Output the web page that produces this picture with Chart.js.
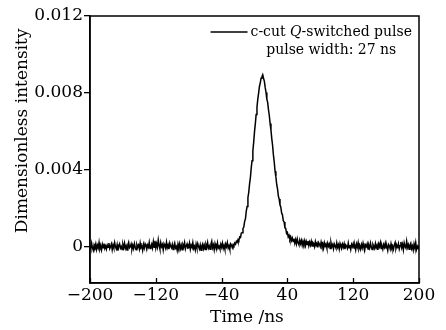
<!DOCTYPE html>
<html>
<head>
<meta charset="utf-8">
<script src="https://cdn.jsdelivr.net/npm/chart.js@4/dist/chart.umd.min.js"></script>
<style>
html,body{margin:0;padding:0;background:#fff;}
#wrap{width:446px;height:330px;}
</style>
</head>
<body>
<div id="wrap"><canvas id="c" width="446" height="330"></canvas></div>
<script>
// Sampling of the time axis (ns)
const timeStart = -200;
const timeStep = 1;
// Intensity values in units of 1e-5 (dimensionless)
const valueUnit = 1e-5;
// t = -200 .. -21
const baselineBefore = [
  4,-11,17,-7,-20,8,-3,14,-15,6,-8,21,-13,1,-18,11,-6,15,-10,3,
  -14,7,-4,18,-11,0,13,-17,8,-7,20,-3,-13,10,-21,4,14,-8,1,-15,
  11,-6,17,-10,3,-18,8,22,-7,-1,13,-14,6,-11,15,-4,-17,10,-3,7,
  -13,18,-6,1,-20,11,-8,14,4,-15,7,-3,21,-11,0,13,-7,25,-4,30,
  -8,15,-3,34,6,-13,20,-1,10,-17,14,3,-10,22,-6,8,-14,17,1,-7,
  11,-15,4,18,-8,0,-20,13,-4,15,-11,6,-17,10,-1,20,-13,3,14,-8,
  -6,17,-14,7,-3,21,-10,1,-18,13,-7,15,-1,-13,8,-20,4,14,-11,6,
  -15,10,-4,20,-8,3,-14,13,28,-6,8,-17,15,-3,-11,18,-7,1,-13,11,
  -4,17,-10,6,-14,13,-1,20,-8,4,-15,14,7,-6,10,4,18,12,27,22
];
// t = -20 .. 47
const pulse = [
  36,31,50,47,70,72,94,101,131,144,
  184,208,254,282,326,359,408,447,498,542,
  597,638,687,725,767,798,833,852,876,883,
  894,876,860,828,802,767,750,712,682,640,
  607,562,526,477,440,392,363,323,300,263,
  247,217,205,174,165,134,128,97,94,68,
  73,50,58,38,50,31,44,26
];
// t = 48 .. 200
const tailAfter = [
  41,17,36,14,39,19,9,33,15,31,7,28,13,30,5,26,10,29,4,23,
  7,27,3,21,15,-1,25,6,17,-5,20,11,-1,23,3,15,-8,19,2,13,
  -7,17,1,13,-10,20,-1,10,-12,14,3,-8,19,-4,9,-13,16,1,-9,12,
  -4,14,-14,8,1,-10,18,-6,7,-15,11,-1,15,-8,4,-17,13,-3,20,-11,
  3,-14,10,-7,17,-4,-18,8,0,14,-13,6,-8,18,-3,-15,11,1,-10,15,
  -6,7,-17,13,-1,20,-11,3,-14,10,-4,17,-8,0,-20,11,4,-13,14,-7,
  1,-15,8,21,-10,6,-3,15,-13,4,24,-6,11,-17,18,0,-8,27,-4,10,
  -14,7,17,-11,3,-18,13,-7,20,-15,1,-10,6
];
const xTicks = [-200,-120,-40,40,120,200];
const xTickLabels = ['\u2212200','\u2212120','\u221240','40','120','200'];
const yTicks = [0,0.004,0.008,0.012];
const yTickLabels = ['0','0.004','0.008','0.012'];
const xTitle = 'Time /ns';
const yTitle = 'Dimensionless intensity';
const legendLabelA = 'c-cut ';
const legendLabelQ = 'Q';
const legendLabelB = '-switched pulse';
const legendNote = 'pulse width: 27 ns';

const allValues = baselineBefore.concat(pulse, tailAfter);
const points = allValues.map((v, i) => ({x: timeStart + i * timeStep, y: v * valueUnit}));

const FONT = '"DejaVu Serif", serif';

const framePlugin = {
  id: 'frame',
  afterDraw(chart) {
    const ctx = chart.ctx;
    const a = chart.chartArea;
    const xs = chart.scales.x;
    ctx.save();
    ctx.strokeStyle = '#000';
    ctx.lineWidth = 1.5;
    ctx.strokeRect(a.left, a.top, a.right - a.left, a.bottom - a.top);
    ctx.lineWidth = 1.3;
    xTicks.forEach(v => {
      const px = Math.round(xs.getPixelForValue(v)) + 0.5;
      ctx.beginPath();
      ctx.moveTo(px, a.bottom);
      ctx.lineTo(px, a.bottom - 5);
      ctx.stroke();
    });
    // axis titles
    ctx.fillStyle = '#000';
    ctx.font = '17px ' + FONT;
    ctx.textAlign = 'center';
    ctx.textBaseline = 'alphabetic';
    ctx.fillText(xTitle, a.left + (a.right - a.left) * 0.477, 322);
    ctx.save();
    ctx.translate(27, a.top + (a.bottom - a.top) * 0.43);
    ctx.rotate(-Math.PI / 2);
    ctx.fillText(yTitle, 0, 0);
    ctx.restore();
    // legend
    ctx.textBaseline = 'middle';
    const fs = 14;
    const normal = fs + 'px ' + FONT;
    const italic = 'italic ' + fs + 'px ' + FONT;
    ctx.font = normal;
    const wA = ctx.measureText(legendLabelA).width;
    const wB = ctx.measureText(legendLabelB).width;
    ctx.font = italic;
    const wQ = ctx.measureText(legendLabelQ).width;
    const total = wA + wQ + wB;
    const xEnd = a.right - 7;
    const xStart = xEnd - total;
    const y1 = a.top + 16;
    ctx.lineWidth = 1.3;
    ctx.beginPath();
    ctx.moveTo(xStart - 40, y1);
    ctx.lineTo(xStart - 3, y1);
    ctx.stroke();
    ctx.textAlign = 'left';
    ctx.font = normal;
    ctx.fillText(legendLabelA, xStart, y1);
    ctx.font = italic;
    ctx.fillText(legendLabelQ, xStart + wA, y1);
    ctx.font = normal;
    ctx.fillText(legendLabelB, xStart + wA + wQ, y1);
    ctx.textAlign = 'center';
    ctx.fillText(legendNote, xStart + total / 2, y1 + 18);
    ctx.restore();
  }
};

new Chart(document.getElementById('c'), {
  type: 'line',
  data: {
    datasets: [{
      data: points,
      borderColor: '#000',
      borderWidth: 1.5,
      pointRadius: 0,
      tension: 0,
      fill: false
    }]
  },
  options: {
    responsive: false,
    animation: false,
    events: [],
    layout: {padding: {left: 0, right: 27, top: 16, bottom: 0}},
    plugins: {legend: {display: false}, tooltip: {enabled: false}},
    scales: {
      x: {
        type: 'linear',
        min: -200,
        max: 200,
        afterBuildTicks: s => { s.ticks = xTicks.map(v => ({value: v})); },
        afterFit: s => { s.height = 47; },
        ticks: {
          autoSkip: false,
          maxRotation: 0,
          color: '#000',
          font: {family: FONT, size: 17},
          padding: 2,
          callback: (v) => xTickLabels[xTicks.indexOf(v)]
        },
        grid: {drawOnChartArea: false, drawTicks: false},
        border: {display: true, color: '#000', width: 1.5},
        title: {display: false}
      },
      y: {
        type: 'linear',
        min: -0.0019,
        max: 0.012,
        afterBuildTicks: s => { s.ticks = yTicks.map(v => ({value: v})); },
        afterFit: s => { s.width = 90; },
        ticks: {
          color: '#000',
          font: {family: FONT, size: 17},
          padding: 1,
          callback: (v) => yTickLabels[yTicks.indexOf(v)]
        },
        grid: {drawOnChartArea: false, drawTicks: true, tickLength: 6, color: '#000', lineWidth: 1.3},
        border: {display: true, color: '#000', width: 1.5},
        title: {display: false}
      }
    }
  },
  plugins: [framePlugin]
});
</script>
</body>
</html>
